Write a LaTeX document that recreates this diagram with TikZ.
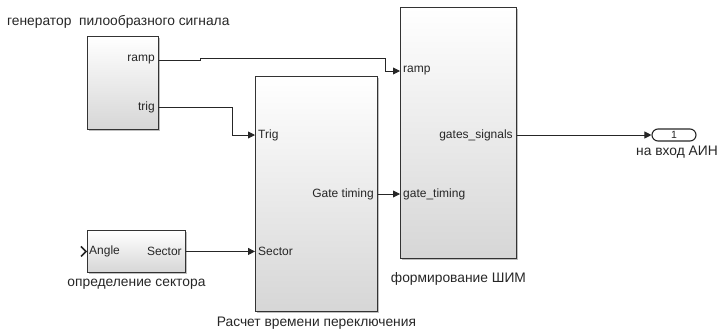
\documentclass[tikz,border=0pt]{standalone}
\usepackage{fontspec}
\setmainfont{Liberation Sans}
\usetikzlibrary{arrows.meta,shadows,calc}
\begin{document}
\begin{tikzpicture}[x=1pt,y=-1pt,
  every node/.style={font=\fontsize{12}{13}\selectfont, text=black!85},
  blk/.style={draw=black!80, line width=0.9pt, top color=white, bottom color=black!16,
    drop shadow={shadow xshift=1.5pt,shadow yshift=-1.5pt,opacity=0.25,fill=black},
    inner sep=0pt, anchor=north west},
  wire/.style={draw=black!85, line width=0.9pt, -{Triangle[length=7pt,width=7pt]}},
  lbl/.style={inner sep=1pt},
  blkname/.style={font=\fontsize{13.8}{15}\selectfont, inner sep=1pt}]
\useasboundingbox (0,0) rectangle (718,333);

% blocks
\node[blk, minimum width=71pt, minimum height=93pt] (gen) at (87,36) {};
\node[blk, minimum width=98pt, minimum height=42pt] (sec) at (87,230) {};
\node[blk, minimum width=122pt, minimum height=235pt] (calc) at (255,76) {};
\node[blk, minimum width=116pt, minimum height=251pt] (pwm) at (400,7) {};
\node[draw=black!85, line width=1.1pt, rounded corners=6pt, minimum width=44pt,
  minimum height=12pt, inner sep=0pt, font=\fontsize{10.5}{11}\selectfont] (out) at (674,135) {1};

% ports
\coordinate (gR) at ($(gen.north east)+(0,24)$);
\coordinate (gT) at ($(gen.north east)+(0,71)$);
\coordinate (sA) at (sec.west);
\coordinate (sS) at (sec.east);
\coordinate (cT) at ($(calc.north west)+(0,59)$);
\coordinate (cS) at (calc.west |- sS);
\coordinate (cG) at ($(calc.north east)+(0,118)$);
\coordinate (pR) at ($(pwm.north west)+(0,64)$);
\coordinate (pG) at (pwm.west |- cG);
\coordinate (pO) at ($(pwm.north east)+(0,128)$);

% port labels
\node[lbl, anchor=east] at ($(gR)+(-3,0)$) {ramp};
\node[lbl, anchor=east] at ($(gT)+(-3,0)$) {trig};
\node[lbl, anchor=west] at ($(sA)+(1,0)$) {Angle};
\node[lbl, anchor=east] at ($(sS)+(-3,0)$) {Sector};
\node[lbl, anchor=west] at ($(cT)+(2,0)$) {Trig};
\node[lbl, anchor=west] at ($(cS)+(2,0)$) {Sector};
\node[lbl, anchor=east] at ($(cG)+(-3,0)$) {Gate timing};
\node[lbl, anchor=west] at ($(pR)+(2,0)$) {ramp};
\node[lbl, anchor=west] at ($(pG)+(2,0)$) {gate\_timing};
\node[lbl, anchor=east] at ($(pO)+(-3,0)$) {gates\_signals};

% inport chevron
\draw[line width=1.6pt, draw=black!85] ($(sA)+(-6,-5)$) -- ($(sA)+(-1,0)$) -- ($(sA)+(-6,5)$);

% block labels
\node[blkname, anchor=west] (tgen) at (6,22) {генератор\ \ пилообразного сигнала};
\node[blkname, anchor=north] (tsec) at ($(sec.south)+(0,5)$) {определение сектора};
\node[blkname, anchor=north] (tcalc) at ($(calc.south)+(0,4)$) {Расчет времени переключения};
\node[blkname, anchor=north] (tpwm) at ($(pwm.south)+(0,12)$) {формирование ШИМ};
\node[blkname, anchor=north] (tout) at ($(out.south)+(3,3)$) {на вход АИН};

% connectors
\draw[wire] (gR) -- (200,60) -- (200,58) -- (385,58) |- (pR);
\draw[wire] (gT) -- (232,107) |- (cT);
\draw[wire] (sS) -- (cS);
\draw[wire] (cG) -- (pG);
\draw[wire] (pO) -- (out.west);
\end{tikzpicture}
\end{document}
